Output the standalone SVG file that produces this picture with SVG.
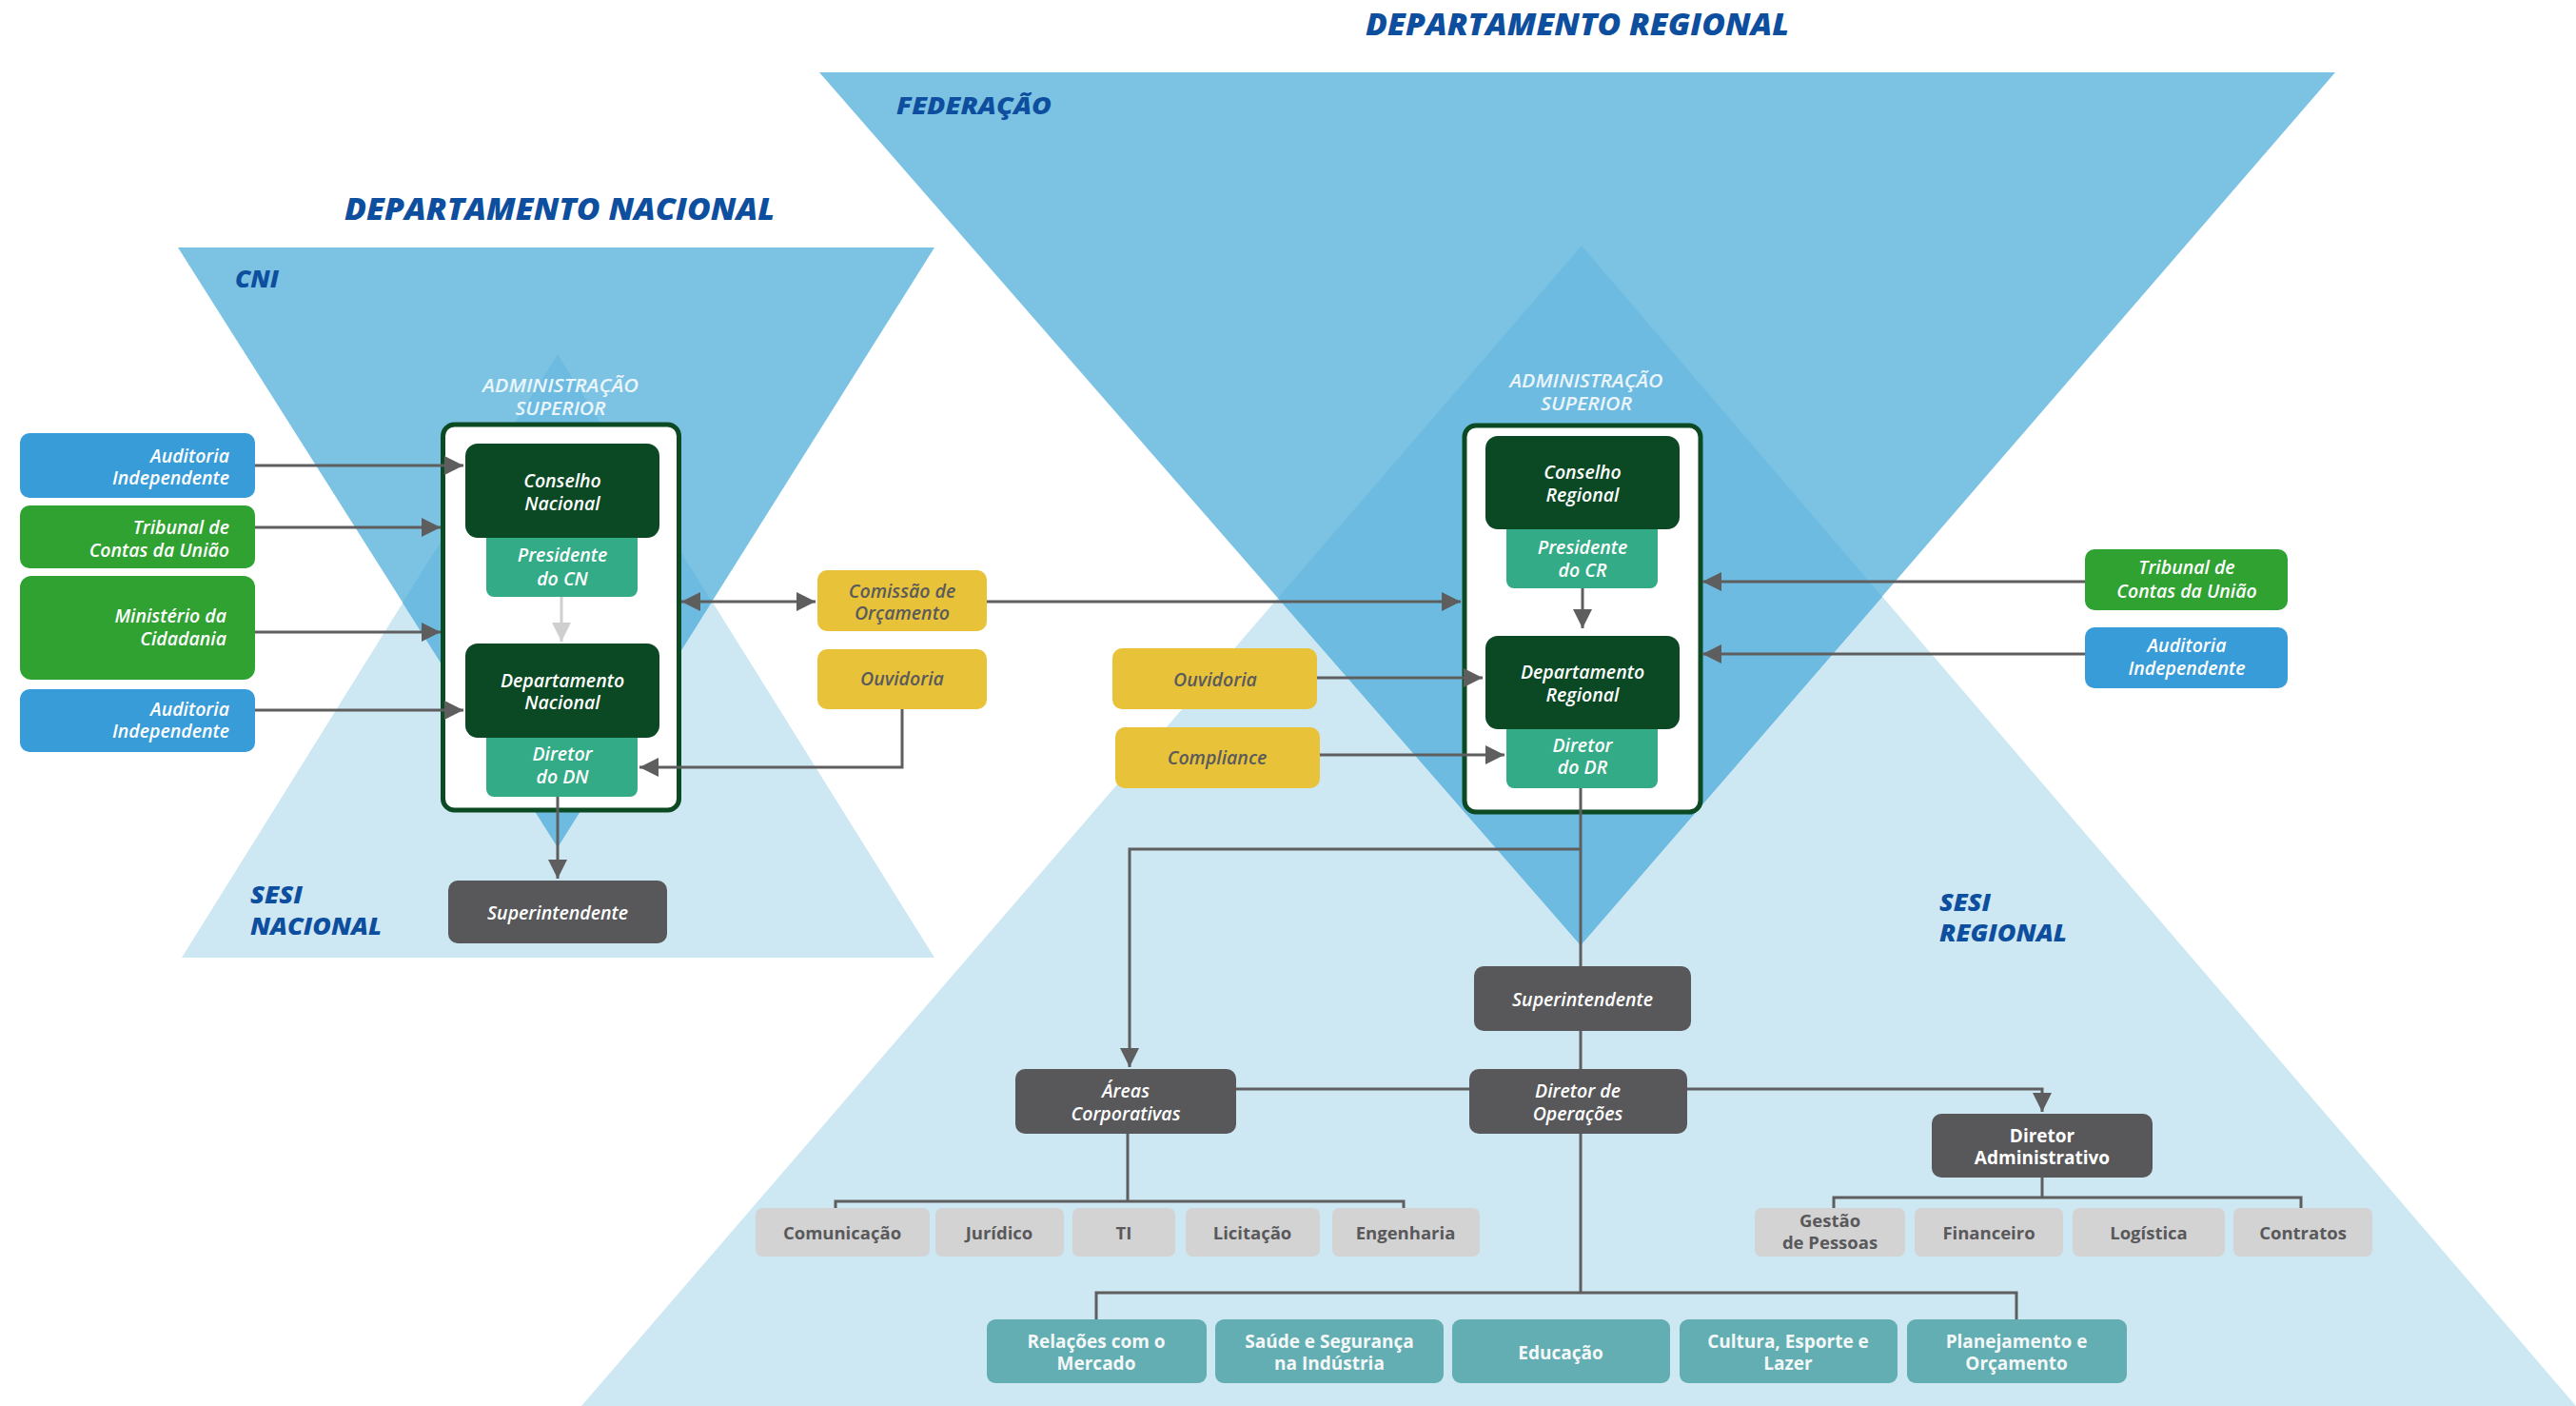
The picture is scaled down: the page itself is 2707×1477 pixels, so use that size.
<svg xmlns="http://www.w3.org/2000/svg" width="2707" height="1477" viewBox="0 0 2707 1477">
  <defs>
    <style>
      .lbl { font-family: "Open Sans", "Noto Sans", "DejaVu Sans", sans-serif; font-weight: 600; font-size: 19.5px; text-anchor: middle; }
      .it { font-style: italic; }
      .up { font-weight: 700; font-size: 19px; }
      .right { text-anchor: end; }
      .w { fill: #ffffff; }
      .dk { fill: #5a5a5c; }
      .gt { fill: #59595b; font-weight: 700; font-size: 18.5px; }
      .tt { fill: #f4f8f8; font-weight: 700; font-size: 19px; }
      .hd { font-family: "Open Sans", "Noto Sans", sans-serif; font-weight: 800; font-style: italic; fill: #0d4f9e; }
      .adm { font-family: "Open Sans", "Noto Sans", sans-serif; font-weight: 600; font-style: italic; font-size: 19px; fill: #eaf5fb; text-anchor: middle; }
      .blue { fill: #389cd9; }
      .green { fill: #2fa232; }
      .dgreen { fill: #0a4924; }
      .teal { fill: #33ab86; }
      .yellow { fill: #e8c33a; }
      .dgray { fill: #58585a; }
      .lgray { fill: #d3d3d3; }
      .aqua { fill: #62aeb2; }
      .frame { fill: #ffffff; stroke: #0b4a22; stroke-width: 5; }
      .conn path { fill: none; stroke: #5e5e5e; stroke-width: 3; }
    </style>
    <marker id="ah" viewBox="0 0 20 20" refX="20" refY="10" markerWidth="20" markerHeight="20" markerUnits="userSpaceOnUse" orient="auto-start-reverse">
      <path d="M0,0 L20,10 L0,20 z" fill="#5e5e5e"/>
    </marker>
    <marker id="ahl" viewBox="0 0 20 20" refX="20" refY="10" markerWidth="20" markerHeight="20" markerUnits="userSpaceOnUse" orient="auto">
      <path d="M0,0 L20,10 L0,20 z" fill="#cfcfcf"/>
    </marker>
  </defs>

  <rect width="2707" height="1477" fill="#ffffff"/>

  <!-- National level background: CNI (down) and SESI Nacional (up) -->
  <g id="bg-nacional">
    <polygon points="586,372 982,1006 191,1006" fill="#cde7f3"/>
    <polygon points="187,260 982,260 586,890" fill="#7cc3e3"/>
    <polygon points="586,372 748,632 586,890 423,633" fill="#6ebbe1"/>
  </g>

  <!-- Regional level background: Federação (down) and SESI Regional (up) -->
  <g id="bg-regional">
    <polygon points="1662,258 2707,1477 611,1477" fill="#cde7f3"/>
    <polygon points="861,76 2454,76 1661,993" fill="#7cc3e3"/>
    <polygon points="1662,258 1978,627 1661,993 1343,628" fill="#6ebbe1"/>
  </g>

  <!-- Section headings -->
  <g id="headings">
    <text class="hd" x="362" y="231" font-size="32" textLength="452" lengthAdjust="spacingAndGlyphs">DEPARTAMENTO NACIONAL</text>
    <text class="hd" x="1435" y="37" font-size="31" textLength="445" lengthAdjust="spacingAndGlyphs">DEPARTAMENTO REGIONAL</text>
    <text class="hd" x="942" y="120" font-size="25" textLength="163" lengthAdjust="spacingAndGlyphs">FEDERAÇÃO</text>
    <text class="hd" x="247" y="302" font-size="25" textLength="46" lengthAdjust="spacingAndGlyphs">CNI</text>
    <text class="hd" x="263" y="949" font-size="25" textLength="55" lengthAdjust="spacingAndGlyphs">SESI</text>
    <text class="hd" x="263" y="982" font-size="25" textLength="138" lengthAdjust="spacingAndGlyphs">NACIONAL</text>
    <text class="hd" x="2038" y="957" font-size="25" textLength="54" lengthAdjust="spacingAndGlyphs">SESI</text>
    <text class="hd" x="2038" y="989" font-size="25" textLength="134" lengthAdjust="spacingAndGlyphs">REGIONAL</text>
    <text class="adm" x="589" y="412" textLength="164" lengthAdjust="spacingAndGlyphs">ADMINISTRAÇÃO</text>
    <text class="adm" x="589" y="436" textLength="95" lengthAdjust="spacingAndGlyphs">SUPERIOR</text>
    <text class="adm" x="1667" y="407" textLength="161" lengthAdjust="spacingAndGlyphs">ADMINISTRAÇÃO</text>
    <text class="adm" x="1667" y="431" textLength="96" lengthAdjust="spacingAndGlyphs">SUPERIOR</text>
  </g>

  <!-- Administração Superior frames -->
  <g id="adm-superior-dn"><rect class="frame" x="465.5" y="446" width="248" height="405" rx="12"/></g>
  <g id="adm-superior-dr"><rect class="frame" x="1539" y="447" width="248" height="406" rx="12"/></g>

  <!-- Connectors -->
  <g id="connectors" class="conn">
    <path d="M268,489 H487" marker-end="url(#ah)"/>
    <path d="M268,554 H463" marker-end="url(#ah)"/>
    <path d="M268,664 H463" marker-end="url(#ah)"/>
    <path d="M268,746 H487" marker-end="url(#ah)"/>
    <path d="M590,627 V674" marker-end="url(#ahl)" style="stroke:#cfcfcf"/>
    <path d="M586,837 V923" marker-end="url(#ah)"/>
    <path d="M716,632 H857" marker-start="url(#ah)" marker-end="url(#ah)"/>
    <path d="M948,745 V806 H672" marker-end="url(#ah)"/>
    <path d="M1037,632 H1535" marker-end="url(#ah)"/>
    <path d="M1384,712 H1558" marker-end="url(#ah)"/>
    <path d="M1387,793 H1581" marker-end="url(#ah)"/>
    <path d="M2191,611 H1789" marker-end="url(#ah)"/>
    <path d="M2191,687 H1789" marker-end="url(#ah)"/>
    <path d="M1663,618 V660" marker-end="url(#ah)"/>
    <path d="M1661,828 V1015"/>
    <path d="M1661,892 H1187 V1121" marker-end="url(#ah)"/>
    <path d="M1661,1083 V1123"/>
    <path d="M1299,1144 H1544"/>
    <path d="M1773,1144 H2146 V1168" marker-end="url(#ah)"/>
    <path d="M1185,1191 V1262"/>
    <path d="M878,1270 V1262 H1475 V1270"/>
    <path d="M1661,1191 V1358"/>
    <path d="M1152,1386 V1358 H2119 V1386"/>
    <path d="M2146,1237 V1258"/>
    <path d="M1927,1270 V1258 H2418 V1270"/>
  </g>

  <!-- External bodies, national level -->
  <g id="auditoria-dn-1">
    <rect class="blue" x="21" y="455" width="247" height="68" rx="10"/>
    <text class="lbl it w right" x="241" y="486">Auditoria</text>
    <text class="lbl it w right" x="241" y="509">Independente</text>
  </g>
  <g id="tcu-dn">
    <rect class="green" x="21" y="531" width="247" height="66" rx="10"/>
    <text class="lbl it w right" x="241" y="561">Tribunal de</text>
    <text class="lbl it w right" x="241" y="585">Contas da União</text>
  </g>
  <g id="ministerio-cidadania">
    <rect class="green" x="21" y="605" width="247" height="109" rx="12"/>
    <text class="lbl it w right" x="238" y="654">Ministério da</text>
    <text class="lbl it w right" x="238" y="678">Cidadania</text>
  </g>
  <g id="auditoria-dn-2">
    <rect class="blue" x="21" y="724" width="247" height="66" rx="10"/>
    <text class="lbl it w right" x="241" y="752">Auditoria</text>
    <text class="lbl it w right" x="241" y="775">Independente</text>
  </g>

  <!-- Departamento Nacional -->
  <g id="presidente-cn">
    <rect class="teal" x="511" y="555" width="159" height="72" rx="8"/>
    <text class="lbl it w" x="591" y="590">Presidente</text>
    <text class="lbl it w" x="591" y="615">do CN</text>
  </g>
  <g id="conselho-nacional">
    <rect class="dgreen" x="489" y="466" width="204" height="99" rx="13"/>
    <text class="lbl it w" x="591" y="512">Conselho</text>
    <text class="lbl it w" x="591" y="536">Nacional</text>
  </g>
  <g id="diretor-dn">
    <rect class="teal" x="511" y="765" width="159" height="72" rx="8"/>
    <text class="lbl it w" x="591" y="799">Diretor</text>
    <text class="lbl it w" x="591" y="823">do DN</text>
  </g>
  <g id="departamento-nacional">
    <rect class="dgreen" x="489" y="676" width="204" height="99" rx="13"/>
    <text class="lbl it w" x="591" y="722">Departamento</text>
    <text class="lbl it w" x="591" y="745">Nacional</text>
  </g>
  <g id="superintendente-dn">
    <rect class="dgray" x="471" y="925" width="230" height="66" rx="10"/>
    <text class="lbl it w" x="586" y="966">Superintendente</text>
  </g>
  <g id="comissao-orcamento">
    <rect class="yellow" x="859" y="599" width="178" height="64" rx="10"/>
    <text class="lbl it dk" x="948" y="628">Comissão de</text>
    <text class="lbl it dk" x="948" y="651">Orçamento</text>
  </g>
  <g id="ouvidoria-dn">
    <rect class="yellow" x="859" y="682" width="178" height="63" rx="10"/>
    <text class="lbl it dk" x="948" y="720">Ouvidoria</text>
  </g>

  <!-- Departamento Regional -->
  <g id="ouvidoria-dr">
    <rect class="yellow" x="1169" y="681" width="215" height="64" rx="10"/>
    <text class="lbl it dk" x="1277" y="721">Ouvidoria</text>
  </g>
  <g id="compliance">
    <rect class="yellow" x="1172" y="764" width="215" height="64" rx="10"/>
    <text class="lbl it dk" x="1279" y="803">Compliance</text>
  </g>
  <g id="presidente-cr">
    <rect class="teal" x="1583" y="546" width="159" height="72" rx="8"/>
    <text class="lbl it w" x="1663" y="582">Presidente</text>
    <text class="lbl it w" x="1663" y="606">do CR</text>
  </g>
  <g id="conselho-regional">
    <rect class="dgreen" x="1561" y="458" width="204" height="98" rx="13"/>
    <text class="lbl it w" x="1663" y="503">Conselho</text>
    <text class="lbl it w" x="1663" y="527">Regional</text>
  </g>
  <g id="diretor-dr">
    <rect class="teal" x="1583" y="756" width="159" height="72" rx="8"/>
    <text class="lbl it w" x="1663" y="790">Diretor</text>
    <text class="lbl it w" x="1663" y="813">do DR</text>
  </g>
  <g id="departamento-regional">
    <rect class="dgreen" x="1561" y="668" width="204" height="98" rx="13"/>
    <text class="lbl it w" x="1663" y="713">Departamento</text>
    <text class="lbl it w" x="1663" y="737">Regional</text>
  </g>
  <g id="tcu-dr">
    <rect class="green" x="2191" y="577" width="213" height="64" rx="10"/>
    <text class="lbl it w" x="2298" y="603">Tribunal de</text>
    <text class="lbl it w" x="2298" y="628">Contas da União</text>
  </g>
  <g id="auditoria-dr">
    <rect class="blue" x="2191" y="659" width="213" height="64" rx="10"/>
    <text class="lbl it w" x="2298" y="685">Auditoria</text>
    <text class="lbl it w" x="2298" y="709">Independente</text>
  </g>

  <!-- SESI Regional -->
  <g id="superintendente-dr">
    <rect class="dgray" x="1549" y="1015" width="228" height="68" rx="10"/>
    <text class="lbl it w" x="1663" y="1057">Superintendente</text>
  </g>
  <g id="areas-corporativas">
    <rect class="dgray" x="1067" y="1123" width="232" height="68" rx="10"/>
    <text class="lbl it w" x="1183" y="1153">Áreas</text>
    <text class="lbl it w" x="1183" y="1177">Corporativas</text>
  </g>
  <g id="diretor-operacoes">
    <rect class="dgray" x="1544" y="1123" width="229" height="68" rx="10"/>
    <text class="lbl it w" x="1658" y="1153">Diretor de</text>
    <text class="lbl it w" x="1658" y="1177">Operações</text>
  </g>
  <g id="diretor-administrativo">
    <rect class="dgray" x="2030" y="1170" width="232" height="67" rx="10"/>
    <text class="lbl up w" x="2146" y="1200">Diretor</text>
    <text class="lbl up w" x="2146" y="1223">Administrativo</text>
  </g>

  <g id="comunicacao"><rect class="lgray" x="794" y="1269" width="183" height="51" rx="7"/><text class="lbl gt" x="885" y="1302">Comunicação</text></g>
  <g id="juridico"><rect class="lgray" x="983" y="1269" width="135" height="51" rx="7"/><text class="lbl gt" x="1050" y="1302">Jurídico</text></g>
  <g id="ti"><rect class="lgray" x="1127" y="1269" width="108" height="51" rx="7"/><text class="lbl gt" x="1181" y="1302">TI</text></g>
  <g id="licitacao"><rect class="lgray" x="1246" y="1269" width="141" height="51" rx="7"/><text class="lbl gt" x="1316" y="1302">Licitação</text></g>
  <g id="engenharia"><rect class="lgray" x="1400" y="1269" width="155" height="51" rx="7"/><text class="lbl gt" x="1477" y="1302">Engenharia</text></g>

  <g id="gestao-pessoas"><rect class="lgray" x="1844" y="1269" width="158" height="51" rx="7"/><text class="lbl gt" x="1923" y="1289">Gestão</text><text class="lbl gt" x="1923" y="1312">de Pessoas</text></g>
  <g id="financeiro"><rect class="lgray" x="2012" y="1269" width="156" height="51" rx="7"/><text class="lbl gt" x="2090" y="1302">Financeiro</text></g>
  <g id="logistica"><rect class="lgray" x="2178" y="1269" width="160" height="51" rx="7"/><text class="lbl gt" x="2258" y="1302">Logística</text></g>
  <g id="contratos"><rect class="lgray" x="2347" y="1269" width="146" height="51" rx="7"/><text class="lbl gt" x="2420" y="1302">Contratos</text></g>

  <g id="relacoes-mercado"><rect class="aqua" x="1037" y="1386" width="231" height="67" rx="9"/><text class="lbl tt" x="1152" y="1416">Relações com o</text><text class="lbl tt" x="1152" y="1439">Mercado</text></g>
  <g id="saude-seguranca"><rect class="aqua" x="1277" y="1386" width="240" height="67" rx="9"/><text class="lbl tt" x="1397" y="1416">Saúde e Segurança</text><text class="lbl tt" x="1397" y="1439">na Indústria</text></g>
  <g id="educacao"><rect class="aqua" x="1526" y="1386" width="229" height="67" rx="9"/><text class="lbl tt" x="1640" y="1428">Educação</text></g>
  <g id="cultura-esporte-lazer"><rect class="aqua" x="1765" y="1386" width="229" height="67" rx="9"/><text class="lbl tt" x="1879" y="1416">Cultura, Esporte e</text><text class="lbl tt" x="1879" y="1439">Lazer</text></g>
  <g id="planejamento-orcamento"><rect class="aqua" x="2004" y="1386" width="231" height="67" rx="9"/><text class="lbl tt" x="2119" y="1416">Planejamento e</text><text class="lbl tt" x="2119" y="1439">Orçamento</text></g>
</svg>
